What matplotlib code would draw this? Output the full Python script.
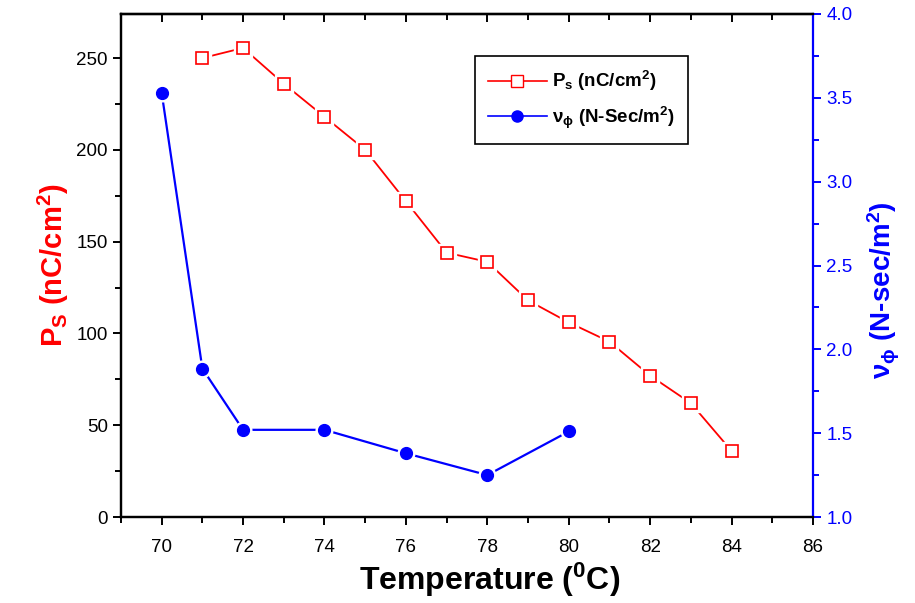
import matplotlib
matplotlib.use("Agg")
import matplotlib.pyplot as plt
from matplotlib.lines import Line2D

plt.rcParams['font.family'] = ['Liberation Sans', 'DejaVu Sans']
plt.rcParams['mathtext.default'] = 'regular'

# Ps data (left axis)
temp_ps = [71, 72, 73, 74, 75, 76, 77, 78, 79, 80, 81, 82, 83, 84]
ps = [250, 255.5, 236, 218, 200, 172, 144, 139, 118, 106, 95.5, 77, 62, 36]

# viscosity data (right axis)
temp_nu = [70, 71, 72, 74, 76, 78, 80]
nu = [3.53, 1.885, 1.52, 1.52, 1.38, 1.25, 1.51]

fig = plt.figure(figsize=(9.15, 6.03), dpi=100)
ax = fig.add_axes([0.1322, 0.1426, 0.7563, 0.8342])
ax2 = ax.twinx()

# red series with small gaps around the open squares
ax.plot(temp_ps, ps, color='red', lw=1.3, zorder=2)
ax.plot(temp_ps, ps, ls='none', marker='s', ms=13, mfc='white', mec='white', zorder=3)
ax.plot(temp_ps, ps, ls='none', marker='s', ms=9, mfc='white', mec='red', mew=1.2, zorder=4)

# blue series
ax2.plot(temp_nu, nu, color='blue', lw=1.6, zorder=2)
ax2.plot(temp_nu, nu, ls='none', marker='o', ms=12, mfc='white', mec='white', zorder=3)
ax2.plot(temp_nu, nu, ls='none', marker='o', ms=8.5, mfc='blue', mec='blue', zorder=4)

ax.set_xlim(69, 86)
ax.set_ylim(0, 274)
ax2.set_ylim(1.0, 4.0)

ax.set_xticks(range(70, 87, 2))
ax.set_xticks(range(69, 87), minor=True)
ax.set_yticks(range(0, 251, 50))
ax.set_yticks(range(0, 274, 25), minor=True)
ax2.set_yticks([1.0, 1.5, 2.0, 2.5, 3.0, 3.5, 4.0])
ax2.set_yticks([1.25, 1.75, 2.25, 2.75, 3.25, 3.75], minor=True)
ax2.set_yticklabels(['1.0', '1.5', '2.0', '2.5', '3.0', '3.5', '4.0'])

for s in ax.spines.values():
    s.set_linewidth(1.6)
for s in ax2.spines.values():
    s.set_linewidth(1.6)
ax2.spines['right'].set_color('blue')
ax.spines['right'].set_visible(False)

ax.tick_params(which='major', length=6, width=1.4, labelsize=13.5, direction='out')
ax.tick_params(axis='x', which='major', pad=10)
ax.tick_params(which='minor', length=4, width=1.4, direction='out')
ax2.tick_params(which='major', length=6, width=1.4, labelsize=13.5, colors='blue', direction='out')
ax2.tick_params(which='minor', length=4, width=1.4, colors='blue', direction='out')

top = ax.secondary_xaxis('top')
top.set_xticks(range(70, 87, 2))
top.set_xticks(range(69, 87), minor=True)
top.tick_params(which='major', direction='in', length=6, width=1.4, labeltop=False)
top.tick_params(which='minor', direction='in', length=4, width=1.4)
top.spines['top'].set_linewidth(1.6)

ax.set_xlabel('Temperature ($^0$C)', fontsize=23, fontweight='bold')
ax.xaxis.set_label_coords(0.533, -0.086)
ax.set_ylabel('P$_S$ (nC/cm$^2$)', fontsize=21, fontweight='bold', color='red', labelpad=4)
ax2.set_ylabel(r'$\nu_\phi$ (N-sec/m$^2$)', fontsize=20, fontweight='bold', color='blue')
ax2.yaxis.set_label_coords(1.077, 0.45)

handles = [
    Line2D([], [], color='red', lw=1.2, marker='s', ms=8, mfc='white', mec='red'),
    Line2D([], [], color='blue', lw=1.2, marker='o', ms=8, mfc='blue', mec='blue'),
]
labels = ['P$_s$ (nC/cm$^2$)', r'$\nu_\phi$ (N-Sec/m$^2$)']
leg = ax2.legend(handles, labels, loc='upper left', bbox_to_anchor=(0.512, 0.916),
                 borderaxespad=0, prop={'size': 13.5, 'weight': 'bold'}, fancybox=False,
                 edgecolor='black', framealpha=1, borderpad=0.7, labelspacing=0.6,
                 handlelength=3.1, handletextpad=0.3)
leg.get_frame().set_linewidth(1.2)

fig.savefig('out.png', dpi=100)
